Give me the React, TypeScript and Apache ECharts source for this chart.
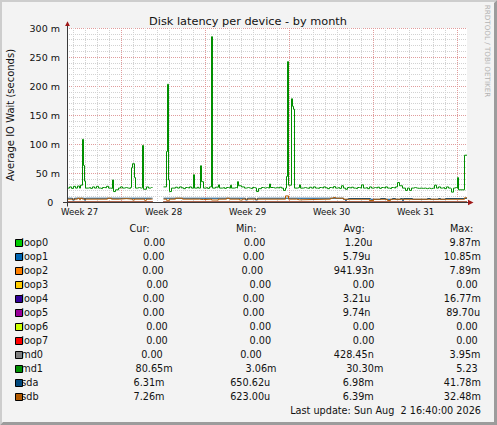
import React, { useEffect, useRef } from "react";
import * as echarts from "echarts";

// ---------- layout constants ----------
const W = 497;
const H = 425;
const GRID_LEFT = 67;
const GRID_TOP = 28;
const GRID_W = 400;
const GRID_H = 174;
const FONT = "DejaVu Sans";

// ---------- texts ----------
const chartTitle = "Disk latency per device - by month";
const yAxisTitle = "Average IO Wait (seconds)";
const watermark = "RRDTOOL / TOBI OETIKER";
const lastUpdate = "Last update: Sun Aug  2 16:40:00 2026";

// ---------- axes (x in hours relative to start of week 28) ----------
const X_MIN = -109;
const X_MAX = 691;
const Y_MIN = 0;
const Y_MAX = 300;
const Y_STEP = 50;
const weekLabels = ["Week 27", "Week 28", "Week 29", "Week 30", "Week 31"];
const weekLabelHours = [-84, 84, 252, 420, 588];
const weekStartHours = [0, 168, 336, 504, 672];
const dayHours: number[] = [];
for (let h = -96; h <= 672; h += 24) dayHours.push(h);

// ---------- series ----------
const seriesNames = ["loop0", "loop1", "loop2", "loop3", "loop4", "loop5", "loop6", "loop7", "md0", "md1", "sda", "sdb"];
const seriesColors = ["#00CC00", "#0066B3", "#FF8000", "#FFCC00", "#330099", "#990099", "#CCFF00", "#FF0000", "#808080", "#008F00", "#00487D", "#B35A00"];

// values in milliseconds, [hour, value]
const zeroTrace: [number, number | null][] = [[-109, 0], [60, 0], [62, null], [84, 0], [691, 0]];

const md1Trace: [number, number | null][] = [
  [-109, 24], [-104, 26], [-100, 23.5], [-96, 27], [-92, 24], [-88, 27.5], [-84, 24], [-82, 29],
  [-78, 108], [-76, 63], [-74, 36], [-72, 24],
  [-66, 25], [-62, 23.5], [-58, 26], [-54, 24], [-50, 27], [-46, 24], [-42, 23], [-38, 25], [-34, 24.5], [-30, 27], [-26, 24], [-22, 23.5],
  [-18, 38], [-16, 18], [-12, 21], [-6, 24], [-2, 26], [2, 24], [6, 25], [10, 24], [14, 23.5], [18, 25],
  [20, 59], [22, 66], [26, 42], [28, 24], [32, 25], [36, 24], [40, 24.5],
  [42, 97.5], [44, 22], [50, 26], [54, 24], [58, 25], [60, 25], [62, null],
  [84, 26], [90, 87], [92, 203], [94, 38], [96, 18], [100, 24],
  [108, 25.5], [112, 24], [116, 26], [120, 24.5], [124, 23], [128, 25], [132, 24], [136, 26], [140, 24],
  [144, 47], [146, 24], [152, 25.5], [154, 24],
  [158, 62.5], [160, 35], [164, 24], [168, 25], [172, 23.5], [176, 26],
  [180, 285], [182, 24], [188, 25.5],
  [194, 29.5], [196, 24], [202, 25], [206, 23.5], [210, 25], [214, 24],
  [218, 29], [220, 24], [226, 25], [230, 24],
  [232, 35], [234, 28], [240, 26], [246, 24], [250, 25], [254, 24], [258, 23], [262, 25], [266, 24],
  [270, 18], [274, 23], [280, 25], [284, 24], [288, 25], [292, 24],
  [296, 31], [298, 25], [304, 24], [308, 25], [312, 24], [316, 25.5], [320, 24],
  [324, 20], [328, 24],
  [330, 44], [332, 242], [334, 29], [340, 178], [342, 165], [344, 160], [346, 24],
  [352, 25], [356, 29.5], [358, 24], [364, 25], [368, 24], [372, 23.5], [376, 25.5], [380, 24], [384, 26], [388, 24], [392, 23.5],
  [396, 25], [400, 24], [404, 26], [408, 24.5], [412, 23], [416, 25], [420, 24], [424, 26.5], [428, 24], [432, 25], [436, 23.5],
  [440, 28], [444, 24], [448, 22], [452, 25], [456, 24], [460, 25.5], [464, 24], [468, 23], [472, 25], [476, 24],
  [480, 29.5], [484, 24], [488, 25], [492, 23], [496, 26], [500, 24], [504, 25], [508, 24], [512, 25.5], [516, 23.5],
  [520, 25], [524, 24], [528, 26], [532, 24], [536, 23], [540, 25], [544, 24], [548, 26],
  [552, 33.5], [556, 28], [562, 24], [568, 20], [572, 24], [576, 20], [580, 24], [584, 25], [588, 24], [592, 23.5],
  [596, 24], [600, 23.5], [604, 24], [608, 23], [612, 24], [616, 23], [620, 24], [624, 23.5],
  [626, 29], [630, 24], [634, 26], [638, 24], [642, 25], [646, 23], [650, 26], [654, 24], [658, 23],
  [660, 17], [664, 24], [666, 25], [670, 24], [672, 42], [674, 21], [686, 80.65], [691, 80.65],
];

const sdaTrace: [number, number | null][] = [
  [-109, 6.5], [-98, 3.5], [-94, 6.5], [-74, 3.2], [-72, 6.5], [60, 6.5], [62, null],
  [84, 6.5], [248, 3.5], [252, 6.5], [268, 3.5], [272, 6.5],
  [444, 4.7], [448, 2.5], [450, 4.7], [454, 6], [498, 4.7], [518, 6], [528, 4.7], [542, 6], [548, 4.7],
  [558, 6], [562, 2.5], [564, 6], [582, 4.7], [612, 6], [618, 4.7], [634, 6], [638, 4.7], [648, 6],
  [686, 6.31], [691, 6.31],
];

const sdbTrace: [number, number | null][] = [
  [-109, 4.9], [-88, 6.5], [-84, 4.0], [-82, 6.5], [-78, 4.9], [-28, 6.5], [-20, 4.9], [-4, 5.8], [10, 4.9],
  [22, 3.5], [26, 4.9], [46, 3], [50, 4.9], [60, 4.9], [62, null],
  [84, 4.9], [90, 3], [96, 4.9], [108, 6.5], [122, 4.9], [156, 4.2], [164, 4.9], [180, 3.5], [194, 4.9],
  [210, 6.5], [216, 4.9], [236, 3.5], [242, 4.9], [328, 10.5], [334, 4.9], [350, 3.8], [356, 4.9],
  [418, 6.5], [424, 7.8], [428, 6.5], [444, 4.7], [496, 2.5], [504, 4.7], [532, 2.5], [538, 4.7],
  [686, 7.26], [691, 7.26],
];

const seriesTraces = [zeroTrace, zeroTrace, zeroTrace, zeroTrace, zeroTrace, zeroTrace, zeroTrace, zeroTrace, zeroTrace, md1Trace, sdaTrace, sdbTrace];

// ---------- legend statistics ----------
const legendHeaders = ["Cur:", "Min:", "Avg:", "Max:"];
const curValues = ["0.00", "0.00", "0.00", "0.00", "0.00", "0.00", "0.00", "0.00", "0.00", "80.65m", "6.31m", "7.26m"];
const minValues = ["0.00", "0.00", "0.00", "0.00", "0.00", "0.00", "0.00", "0.00", "0.00", "3.06m", "650.62u", "623.00u"];
const avgValues = ["1.20u", "5.79u", "941.93n", "0.00", "3.21u", "9.74n", "0.00", "0.00", "428.45n", "30.30m", "6.98m", "6.39m"];
const maxValues = ["9.87m", "10.85m", "7.89m", "0.00", "16.77m", "89.70u", "0.00", "0.00", "3.95m", "5.23", "41.78m", "32.48m"];

// ---------- legend layout (left x of each cell) ----------
const headerX = [129.5, 236, 343.5, 450];
const curX = [143.5, 142.8, 142.2, 146.5, 142.8, 142.8, 146.2, 146.2, 141.2, 135.5, 133.5, 133.5];
const minX = [243.8, 242.8, 241.5, 249.5, 242.8, 242.8, 249.5, 249.5, 240.2, 245.5, 230.2, 230.2];
const avgX = [344.8, 342.8, 333.8, 352.8, 342.8, 342.8, 352.8, 352.8, 333.8, 346.2, 342.8, 342.8];
const maxX = [449.5, 443.8, 449.5, 456.2, 443.8, 446.2, 456.2, 456.2, 449.5, 456.2, 443.8, 443.8];
const ROW0_Y = 242;
const ROW_STEP = 14;
const HEADER_Y = 228.5;

export default function App() {
  const ref = useRef<HTMLDivElement>(null);

  useEffect(() => {
    document.body.style.margin = "0";
    const chart = echarts.init(ref.current as HTMLDivElement, null, { renderer: "svg", width: W, height: H });
    const textColor = "#111111";
    const minorGrid = "#D2D2D2";
    const majorGrid = "#E09C9C";
    const axisColor = "#3A3A3A";
    const arrowColor = "#A01818";
    const fontSize = 9.7;

    const graphics: any[] = [];
    const txt = (text: string, x: number, y: number, size: number, align: string, extra: any = {}) => ({
      type: "text",
      x,
      y,
      silent: true,
      z: 50,
      ...extra,
      style: { text, fill: textColor, fontSize: size, fontFamily: FONT, align, verticalAlign: "middle" },
    });

    // title and side texts
    graphics.push(txt(chartTitle, 248, 21.5, 11.3, "center"));
    graphics.push(txt(yAxisTitle, 10.5, GRID_TOP + GRID_H / 2, 10, "center", { rotation: Math.PI / 2 }));
    graphics.push({
      type: "text",
      x: 487.5,
      y: 51,
      rotation: -Math.PI / 2,
      silent: true,
      z: 50,
      style: { text: watermark, fill: "#B4B4B4", fontSize: 7.2, fontFamily: FONT, align: "center", verticalAlign: "middle" },
    });

    // axes lines and arrows
    const x0 = GRID_LEFT + 0.5;
    const yBase = GRID_TOP + GRID_H + 0.5;
    const xEnd = GRID_LEFT + GRID_W;
    graphics.push({ type: "line", silent: true, z: 60, shape: { x1: GRID_LEFT - 4, y1: yBase, x2: xEnd + 2, y2: yBase }, style: { stroke: axisColor, lineWidth: 1 } });
    graphics.push({ type: "line", silent: true, z: 60, shape: { x1: x0, y1: yBase + 4, x2: x0, y2: GRID_TOP - 3 }, style: { stroke: axisColor, lineWidth: 1 } });
    graphics.push({
      type: "polygon", silent: true, z: 61,
      shape: { points: [[xEnd + 1, yBase - 2.8], [xEnd + 6.5, yBase], [xEnd + 1, yBase + 2.8]] },
      style: { fill: arrowColor },
    });
    graphics.push({
      type: "polygon", silent: true, z: 61,
      shape: { points: [[x0 - 2.4, GRID_TOP - 2], [x0, GRID_TOP - 6.8], [x0 + 2.4, GRID_TOP - 2]] },
      style: { fill: arrowColor },
    });

    // legend header
    legendHeaders.forEach((h, i) => graphics.push(txt(h, headerX[i], HEADER_Y, fontSize, "left")));

    // legend rows
    seriesNames.forEach((name, i) => {
      const y = ROW0_Y + i * ROW_STEP;
      graphics.push(txt(name, 21.2, y, fontSize, "left"));
      graphics.push({
        type: "rect", silent: true, z: 55,
        shape: { x: 15.5, y: y - 2.5, width: 7, height: 7 },
        style: { fill: seriesColors[i], stroke: "#000000", lineWidth: 1 },
      });
      graphics.push(txt(curValues[i], curX[i], y, fontSize, "left"));
      graphics.push(txt(minValues[i], minX[i], y, fontSize, "left"));
      graphics.push(txt(avgValues[i], avgX[i], y, fontSize, "left"));
      graphics.push(txt(maxValues[i], maxX[i], y, fontSize, "left"));
    });
    graphics.push(txt(lastUpdate, 481, ROW0_Y + seriesNames.length * ROW_STEP, fontSize, "right"));

    // frame bevel
    graphics.push({
      type: "polygon", silent: true, z: 70,
      shape: { points: [[0, 0], [W, 0], [W - 2, 2], [2, 2], [2, H - 2], [0, H]] },
      style: { fill: "#CDCDCD" },
    });
    graphics.push({
      type: "polygon", silent: true, z: 70,
      shape: { points: [[W, 0], [W, H], [0, H], [3, H - 3], [W - 3, H - 3], [W - 3, 3]] },
      style: { fill: "#9C9C9C" },
    });

    const option: any = {
      animation: false,
      backgroundColor: "#F3F3F3",
      grid: {
        left: GRID_LEFT, top: GRID_TOP, width: GRID_W, height: GRID_H,
        show: true, backgroundColor: "#FFFFFF", borderWidth: 0, containLabel: false,
      },
      xAxis: [
        {
          type: "value", min: X_MIN, max: X_MAX, position: "bottom",
          axisLine: { show: false },
          axisTick: { show: false, customValues: dayHours },
          axisLabel: {
            show: true, customValues: weekLabelHours, margin: 5,
            color: textColor, fontSize: 8.6, fontFamily: FONT,
            formatter: (v: number) => weekLabels[weekLabelHours.indexOf(v)] ?? "",
          },
          splitLine: { show: true, lineStyle: { color: minorGrid, width: 1, type: [1, 1] } },
        },
        {
          type: "value", min: X_MIN, max: X_MAX, position: "bottom",
          axisLine: { show: false },
          axisTick: { show: false, customValues: weekStartHours },
          axisLabel: { show: false },
          splitLine: { show: true, lineStyle: { color: majorGrid, width: 1, type: [1, 1] } },
        },
      ],
      yAxis: {
        type: "value", min: Y_MIN, max: Y_MAX, interval: Y_STEP,
        axisLine: { show: false },
        axisTick: { show: false },
        minorTick: { show: false, splitNumber: 5 },
        minorSplitLine: { show: true, lineStyle: { color: minorGrid, width: 1, type: [1, 1] } },
        splitLine: { show: true, lineStyle: { color: majorGrid, width: 1, type: [1, 1] } },
        axisLabel: {
          margin: 7, color: textColor, fontSize: 9.5, fontFamily: FONT,
          formatter: (v: number) => (v === 0 ? "{z|0}" : `${v} m`),
          rich: { z: { color: textColor, fontSize: 9.5, fontFamily: FONT, padding: [0, 6.7, 0, 0] } },
        },
      },
      series: seriesNames.map((name, i) => ({
        type: "line",
        name,
        data: seriesTraces[i],
        step: "end",
        symbol: "none",
        showSymbol: false,
        connectNulls: false,
        silent: true,
        z: i < 9 ? 1 : 2,
        lineStyle: { color: seriesColors[i], width: 1 },
        itemStyle: { color: seriesColors[i] },
      })),
      graphic: graphics,
    };

    chart.setOption(option);
    return () => chart.dispose();
  }, []);

  return <div ref={ref} style={{ width: W, height: H }} />;
}
